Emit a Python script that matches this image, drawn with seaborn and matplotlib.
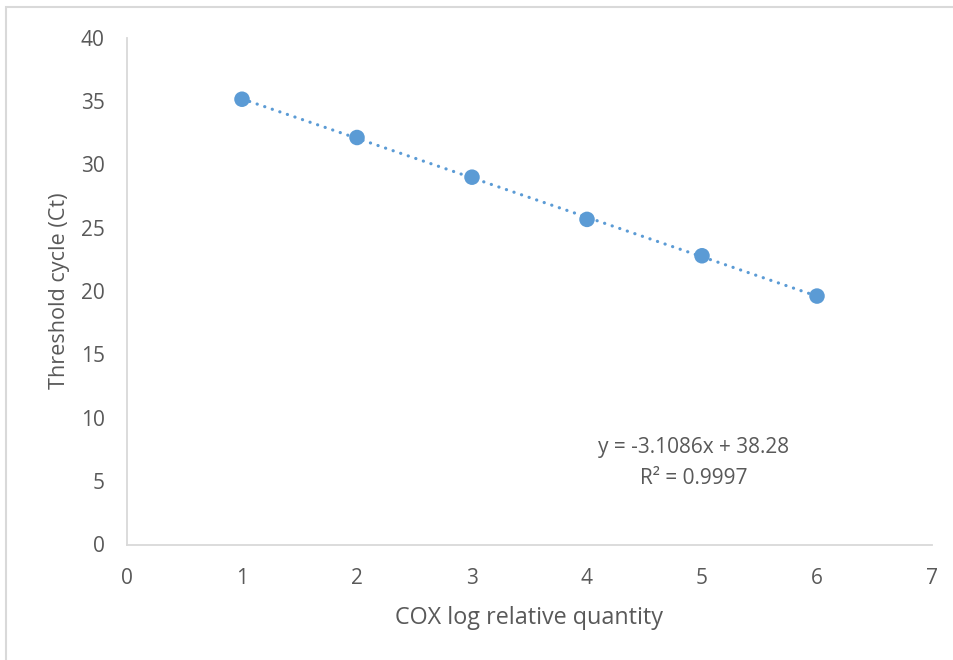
import numpy as np
import pandas as pd
import matplotlib
matplotlib.use("Agg")
import matplotlib.pyplot as plt
from matplotlib.patches import Rectangle
import seaborn as sns

# Standard curve: COX log relative quantity vs threshold cycle
log_quantity = [1, 2, 3, 4, 5, 6]
ct_values = [35.13, 32.11, 28.98, 25.65, 22.78, 19.60]
x_ticks = [0, 1, 2, 3, 4, 5, 6, 7]
y_ticks = [0, 5, 10, 15, 20, 25, 30, 35, 40]
equation_text = "y = -3.1086x + 38.28"
r2_text = "R² = 0.9997"

sns.set_theme(style="white")
plt.rcParams["font.family"] = ["Open Sans", "DejaVu Sans"]

blue = "#5B9BD5"
grey_text = "#595959"
axis_grey = "#D9D9D9"

df = pd.DataFrame({"x": log_quantity, "ct": ct_values})

fig = plt.figure(figsize=(9.54, 6.6), dpi=100)
ax = fig.add_axes([127 / 954, 1 - 544.5 / 660, (932 - 127) / 954, (544.5 - 37.5) / 660])

# Linear trendline
slope, intercept = np.polyfit(df["x"], df["ct"], 1)
fit = pd.DataFrame({"x": [1, 6]})
fit["ct"] = slope * fit["x"] + intercept
sns.lineplot(data=fit, x="x", y="ct", ax=ax, color=blue, linewidth=2.3,
             dashes=False, zorder=2)
line = ax.lines[-1]
line.set_dashes((0.05, 2.45))
line.set_dash_capstyle("round")

sns.scatterplot(data=df, x="x", y="ct", ax=ax, color=blue, s=125,
                edgecolor="none", zorder=3)

ax.set_xlim(0, 7)
ax.set_ylim(0, 40)
ax.set_xticks(x_ticks)
ax.set_yticks(y_ticks)
ax.tick_params(axis="both", length=0, labelsize=15, labelcolor=grey_text)
ax.tick_params(axis="x", pad=17)
ax.tick_params(axis="y", pad=16)

for side in ("top", "right"):
    ax.spines[side].set_visible(False)
for side in ("left", "bottom"):
    ax.spines[side].set_color(axis_grey)
    ax.spines[side].set_linewidth(1.3)

ax.set_xlabel("COX log relative quantity", fontsize=16.8, color=grey_text, labelpad=12)
ax.set_ylabel("Threshold cycle (Ct)", fontsize=15.6, color=grey_text, labelpad=8)

ax.text(4.93, 7.69, equation_text, ha="center", va="center", fontsize=15, color=grey_text)
ax.text(4.93, 5.24, r2_text, ha="center", va="center", fontsize=15, color=grey_text)

# Chart frame
fig.patches.append(Rectangle((6.5 / 954, -0.1), 1.2, 1 - 7 / 660 + 0.1,
                             transform=fig.transFigure, fill=False,
                             edgecolor=axis_grey, linewidth=1.5))

fig.savefig("out.png", dpi=100, facecolor="white")
